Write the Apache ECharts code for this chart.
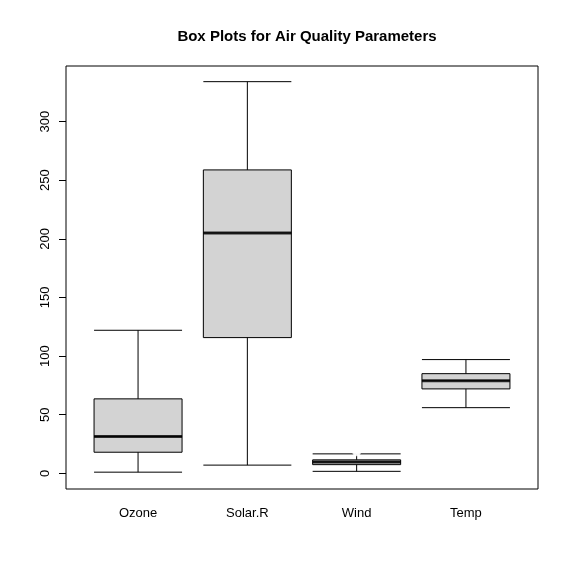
<!DOCTYPE html>
<html><head><meta charset="utf-8">
<script src="https://cdn.jsdelivr.net/npm/echarts@6/dist/echarts.min.js"></script>
<style>html,body{margin:0;padding:0;background:#fff}#c{width:570px;height:566px}</style>
</head><body><div id="c"></div>
<script>
const categories = ['Ozone','Solar.R','Wind','Temp'];
// [lower whisker, Q1, median, Q3, upper whisker]
const boxStats = [
  [1, 18, 31.5, 63.5, 122],
  [7, 115.75, 205, 258.75, 334],
  [1.7, 7.4, 9.7, 11.5, 16.6],
  [56, 72, 79, 85, 97]
];
const outliers = [['Ozone',135],['Ozone',168],['Wind',20.1],['Wind',18.4],['Wind',20.7]];
const yTicks = [0,50,100,150,200,250,300];

const chart = echarts.init(document.getElementById('c'));
chart.setOption({
  animation:false,
  title:{text:'Box Plots for Air Quality Parameters',left:302,top:24,textAlign:'center',
    textStyle:{fontFamily:'Liberation Sans',fontSize:15,fontWeight:'bold',color:'#000'}},
  grid:[
    {left:83.4,width:437.2,top:66,height:423,show:false},
    {left:66,width:472,top:66,height:423,show:true,borderColor:'#000',borderWidth:1,backgroundColor:'transparent'}
  ],
  xAxis:[
    {type:'category',data:categories,gridIndex:0,boundaryGap:true,
      axisLine:{show:false},axisTick:{alignWithLabel:true,length:7,lineStyle:{color:'#000'}},
      axisLabel:{color:'#000',fontFamily:'Liberation Sans',fontSize:13,margin:18}},
    {type:'value',gridIndex:1,show:false}
  ],
  yAxis:[
    {type:'value',gridIndex:0,min:-13.36,max:347.36,offset:17.4,splitLine:{show:false},
      axisLine:{show:false},
      axisTick:{show:true,length:7,customValues:yTicks,lineStyle:{color:'#000'}},
      axisLabel:{rotate:90,customValues:yTicks,color:'#000',fontFamily:'Liberation Sans',fontSize:13,margin:14}},
    {type:'value',gridIndex:1,show:false}
  ],
  series:[
    {type:'boxplot',xAxisIndex:0,yAxisIndex:0,data:boxStats,boxWidth:[88,88],
      itemStyle:{color:'#d3d3d3',borderColor:'#000',borderWidth:1}},
    {type:'scatter',xAxisIndex:0,yAxisIndex:0,symbol:'rect',symbolSize:[88,3],
      itemStyle:{color:'#000'},data:categories.map((c,i)=>[c,boxStats[i][2]]),z:5},
    {type:'scatter',xAxisIndex:0,yAxisIndex:0,symbol:'emptyCircle',symbolSize:7,
      itemStyle:{color:'#fff',borderColor:'#000',borderWidth:1},data:outliers,z:5}
  ]
});
</script></body></html>
